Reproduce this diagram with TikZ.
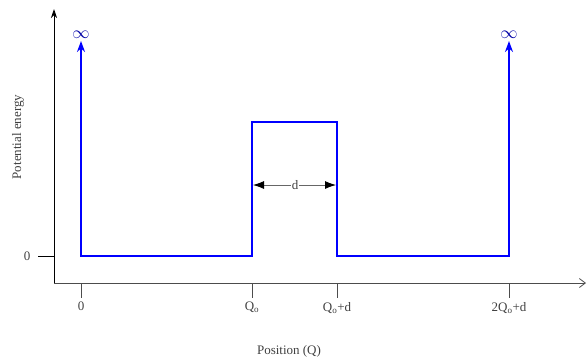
\documentclass[tikz,border=0pt]{standalone}
\usepackage{fontspec}
\setmainfont{Liberation Serif}
\usetikzlibrary{arrows.meta}
\begin{document}
\begin{tikzpicture}[x=1pt, y=-1pt,
  every node/.style={font=\fontsize{13}{15}\selectfont, text=black!75, inner sep=1pt},
  well/.style={line width=2pt, blue, line join=miter, {Stealth[length=11pt, width=8pt]}-{Stealth[length=11pt, width=8pt]}},
  tickmark/.style={thick, black!70},
  inflabel/.style={text=blue!65!black, font=\fontsize{17}{17}\selectfont},
  gap/.style={black!60, thick, -{Latex[length=11pt, width=8pt, black]}}]
  \useasboundingbox (0,0) rectangle (587,360);

  % axes
  \coordinate (o) at (54,283);
  \coordinate (ytop) at (54,9);
  \coordinate (xend) at (586,283);
  \draw[thick, -{Stealth[length=9pt, width=6pt]}] (o) -- (ytop);
  \draw[thick, black!70, -{Straight Barb[length=6pt, width=9pt]}] (o) -- (xend);

  % potential walls and barrier
  \coordinate (w0top) at (81,41);
  \coordinate (w0) at (81,256);
  \coordinate (b1) at (252,256);
  \coordinate (b2) at (252,122);
  \coordinate (b3) at (337,122);
  \coordinate (b4) at (337,256);
  \coordinate (w1) at (509,256);
  \coordinate (w1top) at (509,41);
  \draw[well] (w0top) -- (w0) -- (b1) -- (b2) -- (b3) -- (b4) -- (w1) -- (w1top);
  \node[inflabel] (inf0) at (81,35) {$\infty$};
  \node[inflabel] (inf1) at (509,35) {$\infty$};

  % barrier width
  \node (dlab) at (295,185) {d};
  \coordinate (dl) at (253,185);
  \coordinate (dr) at (336,185);
  \draw[gap] (dlab) -- (dl);
  \draw[gap] (dlab) -- (dr);

  % ticks on the position axis
  \foreach \x/\name/\txt in {81/t0/0, 252/t1/Q\textsubscript{o}, 337/t2/Q\textsubscript{o}+d, 509/t3/2Q\textsubscript{o}+d} {
    \coordinate (\name) at (\x,283);
    \coordinate (\name e) at (\x,298);
    \draw[tickmark] (\name) -- (\name e);
    \node[anchor=north] (\name l) at (\x,301) {\txt};
  }

  % zero of the energy axis
  \coordinate (e0) at (38,256);
  \coordinate (e0a) at (54,256);
  \draw[thick] (e0) -- (e0a);
  \node (e0l) at (27,256) {0};

  % axis titles
  \node (xtitle) at (289,351) {Position (Q)};
  \node[rotate=90] (ytitle) at (18,137) {Potential energy};
\end{tikzpicture}
\end{document}
